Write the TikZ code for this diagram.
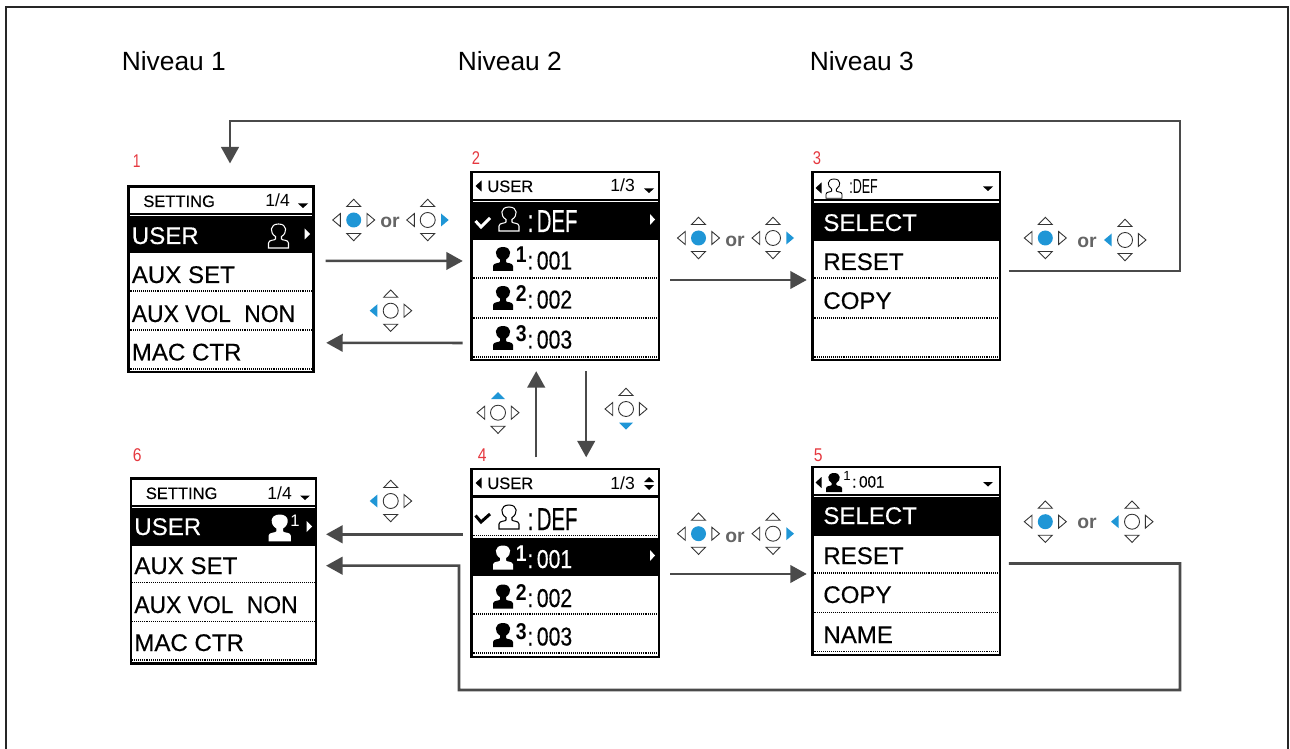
\documentclass[tikz,border=0pt]{standalone}
\usepackage{fontspec}
\setmainfont{Liberation Sans}
\usetikzlibrary{positioning, arrows.meta, calc}

\definecolor{keyblue}{HTML}{1F96D6}
\definecolor{numred}{HTML}{E5383F}
\definecolor{flowgray}{HTML}{4A4A4A}

\newcommand{\menufont}{\fontsize{13.7}{15}\selectfont\addfontfeature{FakeBold=0.3}}
\newcommand{\headfont}{\fontsize{9.4}{11}\selectfont\addfontfeature{FakeBold=0.2}}
\newcommand{\cramp}[2]{\scalebox{#1}[1]{#2}}

\tikzset{
  screen/.style={draw=black, fill=white, line width=1.3pt, inner sep=0pt},
  level/.style={font=\fontsize{15}{17}\selectfont, anchor=base west, inner sep=0pt},
  num/.style={font=\fontsize{10.5}{12}\selectfont, text=numred, anchor=base west, inner sep=0pt},
  menu/.style={font=\menufont, anchor=base west, inner sep=0pt},
  head/.style={font=\headfont, anchor=base west, inner sep=0pt},
  pagenum/.style={font=\fontsize{10}{11}\selectfont, anchor=base west, inner sep=0pt},
  idtxt/.style={font=\fontsize{14.7}{17}\selectfont\addfontfeature{FakeBold=0.3}, anchor=base west, inner sep=0pt},
  deftxt/.style={font=\fontsize{18}{20}\selectfont\addfontfeature{FakeBold=0.5}, anchor=base west, inner sep=0pt},
  supnum/.style={font=\fontsize{13}{14}\selectfont\bfseries, anchor=base west, inner sep=0pt},
  ortxt/.style={font=\fontsize{11}{12}\selectfont\bfseries, text=flowgray!85, inner sep=0pt},
  dotrow/.style={line width=0.85pt, dash pattern=on 0.55pt off 0.55pt},
  flow/.style={draw=flowgray, line width=1.45pt, -{Triangle[length=9.4pt,width=10pt]}},
  keyoff/.style={draw=black!80, line width=0.5pt, fill=white},
  keyon/.style={fill=keyblue},
}

% D-pad: the keys are kc, ku, kd, kl, kr
\newcommand{\dpad}[3][]{
  \begin{scope}[shift={(#2,#3)}, kc/.style={keyoff}, ku/.style={keyoff}, kd/.style={keyoff}, kl/.style={keyoff}, kr/.style={keyoff}, #1]
    \path[kc] (0,0) circle (7.5);
    \path[ku] (0,-20.7) -- (7,-13.5) -- (-7,-13.5) -- cycle;
    \path[kd] (0,20.7) -- (7,13.5) -- (-7,13.5) -- cycle;
    \path[kl] (-21,0) -- (-13.3,-6.5) -- (-13.3,6.5) -- cycle;
    \path[kr] (21,0) -- (13.3,-6.5) -- (13.3,6.5) -- cycle;
  \end{scope}
}
% person figure, 20 wide and 24 high at scale 1
\newcommand{\person}[4]{
  \begin{scope}[shift={(#1,#2)}, scale=#3]
    \path[#4] (7,12.5) -- (7,15) .. controls (7,16.5) and (0,15.5) .. (0,19) -- (0,24) -- (20,24) -- (20,19)
      .. controls (20,15.5) and (13,16.5) .. (13,15) -- (13,12.5)
      .. controls (19,9) and (19,0) .. (10,0) .. controls (1,0) and (1,9) .. (7,12.5) -- cycle;
  \end{scope}
}
% left edge, right edge, header rule, selected row top and bottom, dotted rules
\newcommand{\rows}[6]{
  \draw[line width=1.4pt] (#1,#3) -- (#2,#3);
  \fill (#1,#4) rectangle (#2,#5);
  \foreach \d in {#6} \draw[dotrow] (#1+1,\d) -- (#2-1,\d);
}

\begin{document}
\begin{tikzpicture}[x=0.02cm, y=-0.02cm]
\useasboundingbox (0,0) rectangle (1290,749);
\draw[draw=black!85, line width=1.5pt] (6,749) -- (6,7) -- (1288,7) -- (1288,749);

\node[level] (lev1) at (121.5,70.5) {Niveau 1};
\node[level] (lev2) at (457.5,70.5) {Niveau 2};
\node[level] (lev3) at (809.5,70.5) {Niveau 3};

% screens
\node[screen, minimum width=3.7cm, minimum height=3.71cm] (s1) at (221,279.3) {};
\node[screen, minimum width=3.75cm, minimum height=3.76cm] (s2) at (565.2,266) {};
\node[screen, minimum width=3.75cm, minimum height=3.76cm] (s3) at (906.2,266) {};
\node[screen, minimum width=3.75cm, minimum height=3.76cm] (s4) at (565.2,563) {};
\node[screen, minimum width=3.75cm, minimum height=3.76cm] (s5) at (906.2,561) {};
\node[screen, minimum width=3.7cm, minimum height=3.7cm] (s6) at (223.3,571) {};

\rows{128.5}{313.5}{214}{216}{253.5}{291,330,369}
\rows{471.5}{659}{200}{202}{240}{278,318,357}
\rows{812.5}{1000}{200}{203}{241}{278,318,357}
\rows{471.5}{659}{496.7}{537.7}{575.7}{535.7,614,653}
\rows{812.5}{1000}{495}{497}{536}{573,612.7,651.7}
\rows{131}{315.7}{506}{508}{546}{582.7,621.7,660}

\node[num] (n1) at (132.5,167.5) {\cramp{0.75}{1}};
\node[num] (n2) at (471.5,165) {\cramp{0.8}{2}};
\node[num] (n3) at (812.5,165) {\cramp{0.8}{3}};
\node[num] (n4) at (477.5,461) {\cramp{0.85}{4}};
\node[num] (n5) at (813.5,461) {\cramp{0.85}{5}};
\node[num] (n6) at (132.5,461) {\cramp{0.85}{6}};

% screen 1
\node[head] (s1h) at (143,207) {SETTING};
\node[pagenum] (s1p) at (265,207) {1/4};
\fill (298,203.5) -- (308,203.5) -- (303,208) -- cycle;
\node[menu, text=white] (s1a) at (131.5,244) {USER};
\person{268.5}{224}{1}{draw=white, line width=0.6pt}
\fill[white] (304.5,228.5) -- (310,234) -- (304.5,239.5) -- cycle;
\node[menu] (s1b) at (131.5,283) {AUX SET};
\node[menu] (s1c) at (131.5,322) {\cramp{0.95}{AUX VOL\hspace{8pt}NON}};
\node[menu] (s1d) at (131.5,360.5) {MAC CTR};

% screen 2
\fill (475.5,186) -- (481.5,180.5) -- (481.5,191.5) -- cycle;
\node[head] (s2h) at (487,192) {USER};
\node[pagenum] (s2p) at (610,192) {1/3};
\fill (644,188.5) -- (654,188.5) -- (649,193) -- cycle;
\draw[white, line width=1.7pt] (475.5,221) -- (481,227) -- (490,218);
\person{499}{207}{1}{draw=white, line width=0.6pt}
\node[deftxt, text=white] (s2a) at (527.5,232) {\cramp{0.64}{:\hspace{3pt}DEF}};
\fill[white] (650,214) -- (655,219.5) -- (650,225) -- cycle;
\foreach \y/\t [count=\i] in {247/1, 286/2, 326/3} {
  \person{493}{\y}{1}{fill=black}
  \node[supnum] (s2s\i) at (515.5,\y+16) {\cramp{0.85}{\t}};
  \node[idtxt] (s2d\i) at (527,\y+22.5) {\cramp{0.82}{:\hspace{2.5pt}00\t}};
}

% screen 3
\fill (815.5,188) -- (821.5,182.5) -- (821.5,193.5) -- cycle;
\person{826}{179}{0.8}{draw=black, line width=0.5pt}
\node[head, font=\fontsize{11.5}{13}\selectfont] (s3h) at (849,193.5) {\cramp{0.62}{:DEF}};
\fill (983,186.5) -- (993,186.5) -- (988,191) -- cycle;
\node[menu, text=white] (s3a) at (823,231) {SELECT};
\node[menu] (s3b) at (823,270) {RESET};
\node[menu] (s3c) at (823,309) {COPY};

% screen 4
\fill (475.5,483) -- (481.5,477.5) -- (481.5,488.5) -- cycle;
\node[head] (s4h) at (487,489) {USER};
\node[pagenum] (s4p) at (610,489) {1/3};
\fill (644,482) -- (654,482) -- (649,477) -- cycle;
\fill (644,485) -- (654,485) -- (649,490) -- cycle;
\draw[black, line width=1.7pt] (475.5,515.5) -- (481,522) -- (490,514);
\person{499}{505}{1}{draw=black, line width=0.6pt}
\node[deftxt] (s4a) at (527.5,530) {\cramp{0.64}{:\hspace{3pt}DEF}};
\person{493}{545.5}{1}{fill=white}
\node[supnum, text=white] (s4s1) at (515.5,561.5) {\cramp{0.85}{1}};
\node[idtxt, text=white] (s4d1) at (527,568) {\cramp{0.82}{:\hspace{2.5pt}001}};
\fill[white] (650,550) -- (655,555.5) -- (650,561) -- cycle;
\foreach \y/\t [count=\i from 2] in {584.5/2, 623/3} {
  \person{493}{\y}{1}{fill=black}
  \node[supnum] (s4s\i) at (515.5,\y+16) {\cramp{0.85}{\t}};
  \node[idtxt] (s4d\i) at (527,\y+22.5) {\cramp{0.82}{:\hspace{2.5pt}00\t}};
}

% screen 5
\fill (815.5,482.5) -- (821.5,477) -- (821.5,488) -- cycle;
\person{826}{473}{0.8}{fill=black}
\node[head, font=\fontsize{7.5}{9}\selectfont] (s5s) at (843,480) {1};
\node[head] (s5h) at (852,487.5) {\cramp{0.92}{:\,001}};
\fill (983,482) -- (993,482) -- (988,486.5) -- cycle;
\node[menu, text=white] (s5a) at (823,524) {SELECT};
\node[menu] (s5b) at (823,564) {RESET};
\node[menu] (s5c) at (823,603) {COPY};
\node[menu] (s5d) at (823,643) {NAME};

% screen 6
\node[head] (s6h) at (145.5,499) {SETTING};
\node[pagenum] (s6p) at (267,499) {1/4};
\fill (300,495.5) -- (310,495.5) -- (305,500) -- cycle;
\node[menu, text=white] (s6a) at (134,535) {USER};
\person{268.5}{514.5}{1.12}{fill=white}
\node[head, font=\fontsize{9.5}{10}\selectfont, text=white] (s6s) at (290,526) {1};
\fill[white] (306.5,521) -- (312,526.5) -- (306.5,532) -- cycle;
\node[menu] (s6b) at (134,574) {AUX SET};
\node[menu] (s6c) at (134,613) {\cramp{0.95}{AUX VOL\hspace{8pt}NON}};
\node[menu] (s6d) at (134,651) {MAC CTR};

% keys
\dpad[kc/.style={keyon}]{353.7}{220}
\node[ortxt] (or1) at (390,222.5) {or};
\dpad[kr/.style={keyon}]{427.7}{220}
\dpad[kl/.style={keyon}]{390.7}{310.7}
\dpad[kc/.style={keyon}]{698.5}{238}
\node[ortxt] (or2) at (735,241.5) {or};
\dpad[kr/.style={keyon}]{773}{238}
\dpad[kc/.style={keyon}]{1045.3}{238}
\node[ortxt] (or3) at (1087,242.5) {or};
\dpad[kl/.style={keyon}]{1125}{240}
\dpad[ku/.style={keyon}]{498}{412.7}
\dpad[kd/.style={keyon}]{626}{409}
\dpad[kl/.style={keyon}]{390.7}{501}
\dpad[kc/.style={keyon}]{698.5}{533.7}
\node[ortxt] (or4) at (735,537.5) {or};
\dpad[kr/.style={keyon}]{773}{533.7}
\dpad[kc/.style={keyon}]{1045.3}{521.7}
\node[ortxt] (or5) at (1087,523.5) {or};
\dpad[kl/.style={keyon}]{1132}{521.7}

% flows
\coordinate (c3) at (1180,121);
\coordinate (c5) at (1180,690);
\coordinate (c6) at (459,565.7);
\draw[flow, shorten <=6.2pt, shorten >=4.3pt] ($(s1.east)+(0,-18.5)$) -- ($(s2.west)+(0,-5)$);
\draw[flow, shorten <=4.4pt, shorten >=6.6pt] ($(s2.west)+(0,77)$) -- ($(s1.east)+(0,63.5)$);
\draw[flow, shorten <=5.7pt, shorten >=2.6pt] ($(s2.east)+(0,14)$) -- ($(s3.west)+(0,14)$);
\draw[flow, shorten <=5.7pt, shorten >=2.6pt] ($(s4.east)+(0,11)$) -- ($(s5.west)+(0,13)$);
\draw[flow, shorten <=6pt, shorten >=5.7pt] ($(s4.north)+(-29,0)$) -- ($(s2.south)+(-29,0)$);
\draw[flow, shorten <=5.7pt, shorten >=6pt] ($(s2.south)+(21,0)$) -- ($(s4.north)+(21,0)$);
\draw[flow, shorten <=4.4pt, shorten >=5.2pt] ($(s4.west)+(0,-28.7)$) -- ($(s6.east)+(0,-36.7)$);
\draw[flow, shorten <=4.5pt, shorten >=12.5pt] ($(s3.east)+(0,5)$) -| (c3) -| ($(s1.north)+(9,0)$);
\draw[flow, shorten <=4.5pt, shorten >=5.2pt] ($(s5.east)+(0,2.5)$) -| (c5) -| (c6) -- ($(s6.east)+(0,-5.3)$);
\end{tikzpicture}
\end{document}
